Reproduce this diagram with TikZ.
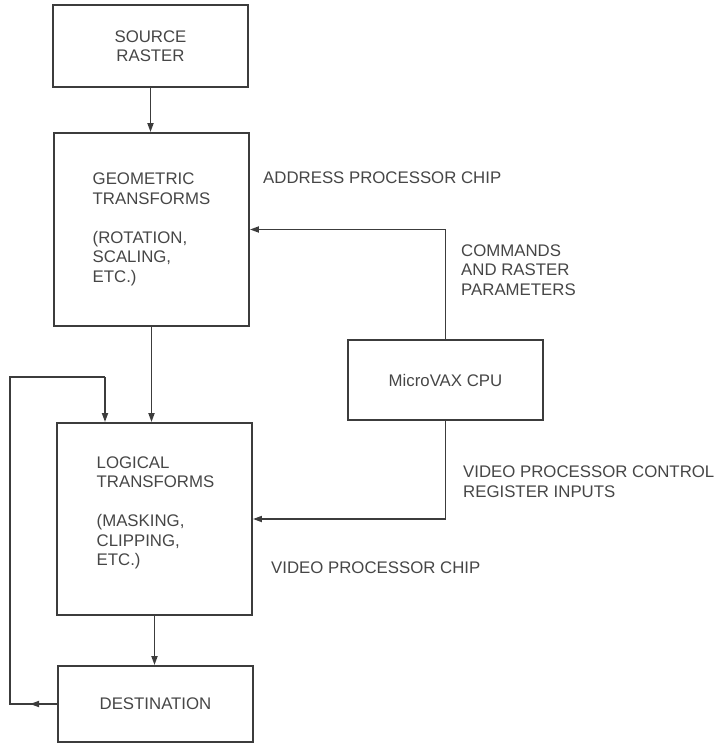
\documentclass[tikz,border=0pt]{standalone}
\usepackage{fontspec}
\setmainfont{Liberation Sans}
\usetikzlibrary{arrows.meta}
\definecolor{ink}{RGB}{60,60,60}
\definecolor{txt}{RGB}{70,70,70}
\begin{document}
\begin{tikzpicture}[x=1pt,y=-1pt,
  every node/.style={font=\fontsize{16.8}{19.5}\selectfont, text=txt},
  blk/.style={draw=ink, line width=1.9pt, minimum width=195pt, inner sep=0pt, align=left},
  lbl/.style={anchor=west, inner sep=0pt, align=left},
  conn/.style={draw=ink, line width=1.7pt},
  arr/.style={conn, -{Triangle[length=9pt,width=6pt]}}]
\useasboundingbox (0,0) rectangle (717,744);
\node[blk, minimum height=82pt, align=center] (src) at (150.5,46) {SOURCE\\RASTER};
\node[blk, minimum height=193pt] (geo) at (151.5,229.5) {GEOMETRIC\\TRANSFORMS\\[19.5pt](ROTATION,\\SCALING,\\ETC.)};
\node[blk, minimum height=80pt] (cpu) at (445.5,380) {MicroVAX CPU};
\node[blk, minimum height=192pt] (logic) at (154.5,519) {};
\node[lbl, anchor=center] (logictxt) at (155.5,513) {LOGICAL\\TRANSFORMS\\[19.5pt](MASKING,\\CLIPPING,\\ETC.)};
\node[blk, minimum height=76pt] (dest) at (155.5,704) {DESTINATION};

\node[lbl] (apc) at (263,178) {ADDRESS PROCESSOR CHIP};
\node[lbl] (cmd) at (461,270) {COMMANDS\\AND RASTER\\PARAMETERS};
\node[lbl] (vpc) at (463,481.5) {VIDEO PROCESSOR CONTROL\\REGISTER INPUTS};
\node[lbl] (vpchip) at (271,568) {VIDEO PROCESSOR CHIP};

\draw[arr] (src.south) -- (src.south |- geo.north);
\draw[arr] (cpu.north) |- (geo.east);
\draw[arr] (geo.south) -- (geo.south |- logic.north);
\draw[arr] (cpu.south) |- (logic.east);
\draw[arr] (logic.south) -- (logic.south |- dest.north);

\coordinate (lb) at (10,704);
\coordinate (lt) at (10,377);
\coordinate (lr) at (105,377);
\draw[conn] (dest.west) -- (lb) -- (lt) -- (lr);
\draw[arr] (lr) -- (lr |- logic.north);
\coordinate (mid) at (30,704);
\draw[arr] (dest.west) -- (mid);
\end{tikzpicture}
\end{document}
